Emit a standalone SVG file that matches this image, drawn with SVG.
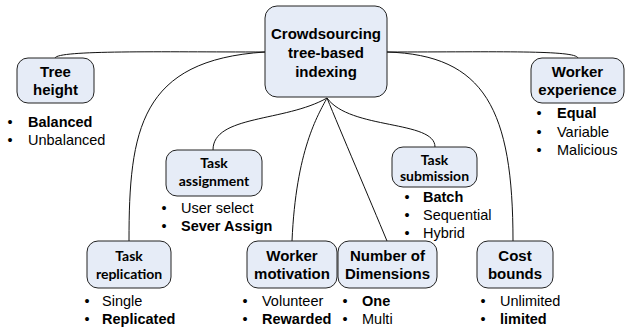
<svg xmlns="http://www.w3.org/2000/svg" width="625" height="331" viewBox="0 0 625 331">
<style>
.box{fill:#e6ecf7;stroke:#222;stroke-width:1}
.t{font-family:"Liberation Sans",Arial,sans-serif;font-weight:bold;font-size:15px;fill:#000;text-anchor:middle}
.c{font-family:Lato,"Liberation Sans",sans-serif;font-weight:bold;font-size:14px;fill:#000;text-anchor:middle}
.b{font-family:"Liberation Sans",Arial,sans-serif;font-size:14.5px;fill:#000}
.bb{font-weight:bold}
.dot{text-anchor:middle}
.conn{fill:none;stroke:#111;stroke-width:1}
</style>
<rect width="625" height="331" fill="#fff"/>
<g id="connectors">
<path class="conn" d="M265,52 C160,52 58,50 55,58"/>
<path class="conn" d="M265,52 C140,60 129,130 129,241"/>
<path class="conn" d="M387,52 C500,52 575,50 578,58"/>
<path class="conn" d="M387,52 C485,55 513,110 513,241"/>
<path class="conn" d="M327,98 C285,122 213,115 213,150"/>
<path class="conn" d="M327,98 C350,130 435,120 435,147"/>
<path class="conn" d="M327,98 C318,115 296,150 292,241"/>
<path class="conn" d="M327,98 C340,130 370,200 387,241"/>
</g>
<g id="root">
<rect class="box" x="265" y="6" width="122" height="91" rx="12"/>
<text class="t" x="326" y="39">Crowdsourcing</text>
<text class="t" x="326" y="58">tree-based</text>
<text class="t" x="326" y="77">indexing</text>
</g>
<g id="tree-height">
<rect class="box" x="17" y="58" width="77" height="45" rx="11"/>
<text class="t" x="55.5" y="77">Tree</text>
<text class="t" x="55.5" y="95">height</text>
<text class="b dot" x="10" y="127">•</text><text class="b bb" x="28" y="127">Balanced</text>
<text class="b dot" x="10" y="145">•</text><text class="b" x="28" y="145">Unbalanced</text>
</g>
<g id="worker-experience">
<rect class="box" x="531" y="58" width="93" height="45" rx="11"/>
<text class="t" x="577.5" y="77">Worker</text>
<text class="t" x="577.5" y="95">experience</text>
<text class="b dot" x="539" y="118">•</text><text class="b bb" x="557" y="118">Equal</text>
<text class="b dot" x="539" y="137">•</text><text class="b" x="557" y="137">Variable</text>
<text class="b dot" x="539" y="155">•</text><text class="b" x="557" y="155">Malicious</text>
</g>
<g id="task-assignment">
<rect class="box" x="166" y="150" width="96" height="46" rx="11"/>
<text class="c" x="214" y="168">Task</text>
<text class="c" x="214" y="186">assignment</text>
<text class="b dot" x="164" y="213">•</text><text class="b" x="181" y="213">User select</text>
<text class="b dot" x="164" y="231">•</text><text class="b bb" x="181" y="231">Sever Assign</text>
</g>
<g id="task-submission">
<rect class="box" x="392" y="147" width="85" height="40" rx="11"/>
<text class="c" x="434.5" y="165">Task</text>
<text class="c" x="434.5" y="181">submission</text>
<text class="b dot" x="407" y="202">•</text><text class="b bb" x="423" y="202">Batch</text>
<text class="b dot" x="407" y="220">•</text><text class="b" x="423" y="220">Sequential</text>
<text class="b dot" x="407" y="238">•</text><text class="b" x="423" y="238">Hybrid</text>
</g>
<g id="task-replication">
<rect class="box" x="87" y="241" width="84" height="47" rx="11"/>
<text class="c" x="129" y="261">Task</text>
<text class="c" x="129" y="279">replication</text>
<text class="b dot" x="87" y="306">•</text><text class="b" x="102" y="306">Single</text>
<text class="b dot" x="87" y="324">•</text><text class="b bb" x="102" y="324">Replicated</text>
</g>
<g id="worker-motivation">
<rect class="box" x="247" y="241" width="90" height="47" rx="11"/>
<text class="t" x="292" y="261">Worker</text>
<text class="t" x="292" y="279">motivation</text>
<text class="b dot" x="245" y="306">•</text><text class="b" x="262" y="306">Volunteer</text>
<text class="b dot" x="245" y="324">•</text><text class="b bb" x="262" y="324">Rewarded</text>
</g>
<g id="number-of-dimensions">
<rect class="box" x="338" y="241" width="99" height="47" rx="11"/>
<text class="t" x="387.5" y="261">Number of</text>
<text class="t" x="387.5" y="279">Dimensions</text>
<text class="b dot" x="345" y="306">•</text><text class="b bb" x="362" y="306">One</text>
<text class="b dot" x="345" y="324">•</text><text class="b" x="362" y="324">Multi</text>
</g>
<g id="cost-bounds">
<rect class="box" x="477" y="241" width="76" height="47" rx="11"/>
<text class="t" x="515" y="261">Cost</text>
<text class="t" x="515" y="279">bounds</text>
<text class="b dot" x="483" y="306">•</text><text class="b" x="500" y="306">Unlimited</text>
<text class="b dot" x="483" y="324">•</text><text class="b bb" x="500" y="324">limited</text>
</g>
</svg>
